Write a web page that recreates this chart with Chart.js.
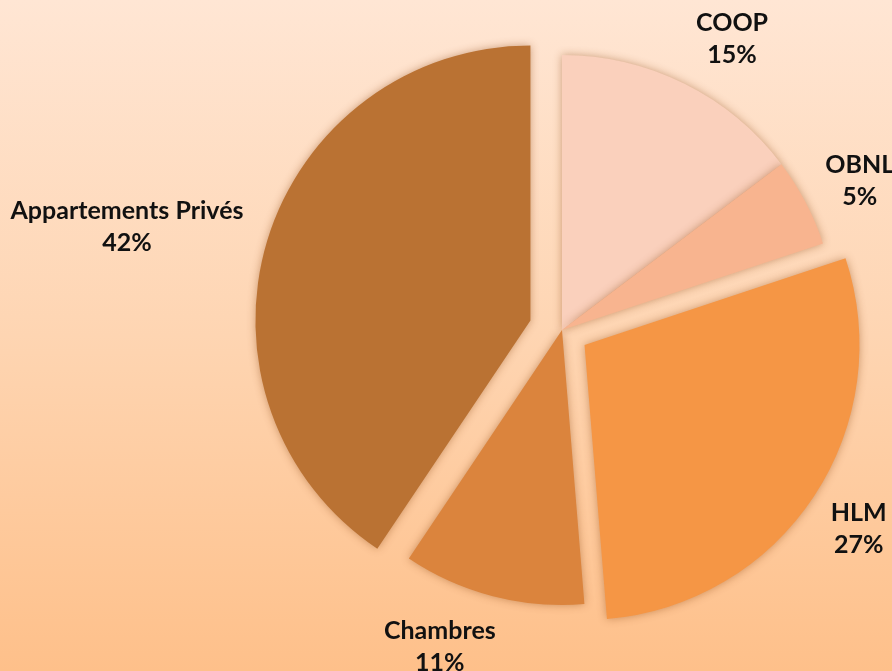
<!DOCTYPE html>
<html>
<head>
<meta charset="utf-8">
<script src="https://cdn.jsdelivr.net/npm/chart.js@4.4.0/dist/chart.umd.min.js"></script>
<style>
  html, body { margin: 0; padding: 0; }
  body {
    width: 892px; height: 671px; overflow: hidden;
    background: linear-gradient(to bottom, #FFE6D4 0%, #FED5B2 50%, #FEC08A 100%);
  }
  canvas { display: block; }
</style>
</head>
<body>
<canvas id="chart" width="892" height="671"></canvas>
<script>
const categories = ['COOP', 'OBNL', 'HLM', 'Chambres', 'Appartements Privés'];
// slice sizes as drawn in the picture (the printed labels are rounded differently)
const shares = [14.7, 5.2, 28.8, 10.7, 40.6];
const shareLabels = ['15%', '5%', '27%', '11%', '42%'];
const sliceColors = ['#FAD0BC', '#F8B48F', '#F59645', '#DB843D', '#BA7233'];
const explode = [0, 0, 27, 0, 33];

// draw the arcs ourselves so exploded slices keep the same radius
const explodedSlices = {
    id: 'explodedSlices',
    beforeDatasetDraw(chart, args) {
        const ctx = chart.ctx;
        args.meta.data.forEach((arc, i) => {
            const mid = (arc.startAngle + arc.endAngle) / 2;
            ctx.save();
            ctx.shadowColor = 'rgba(140, 70, 20, 0.45)';
            ctx.shadowBlur = 8;
            ctx.translate(Math.cos(mid) * explode[i], Math.sin(mid) * explode[i]);
            arc.draw(ctx);
            ctx.restore();
        });
        return false;
    }
};

// labels outside the slices: name + percent
const outsideLabels = {
    id: 'outsideLabels',
    afterDraw(chart, args, opts) {
        const ctx = chart.ctx;
        const meta = chart.getDatasetMeta(0);
        const lineH = 32;
        ctx.save();
        ctx.font = 'bold 25px Lato';
        ctx.fillStyle = '#111';
        ctx.textAlign = 'center';
        ctx.textBaseline = 'middle';
        meta.data.forEach((arc, i) => {
            const mid = (arc.startAngle + arc.endAngle) / 2;
            const dx = Math.cos(mid), dy = Math.sin(mid);
            const lines = [chart.data.labels[i], shareLabels[i]];
            const w = Math.max(...lines.map(l => ctx.measureText(l).width));
            const halfW = w / 2, halfH = (lineH + 16) / 2;
            const r = arc.outerRadius + explode[i] + opts.gap + halfW * Math.abs(dx) + halfH * Math.abs(dy);
            const shift = opts.shift[i] || [0, 0];
            const cx = arc.x + dx * r + shift[0];
            const cy = arc.y + dy * r + shift[1];
            ctx.fillText(lines[0], cx, cy - lineH / 2);
            ctx.fillText(lines[1], cx, cy + lineH / 2);
        });
        ctx.restore();
    }
};

new Chart(document.getElementById('chart'), {
    type: 'pie',
    data: {
        labels: categories,
        datasets: [{
            data: shares,
            backgroundColor: sliceColors,
            borderWidth: 0,
            radius: 275
        }]
    },
    options: {
        responsive: false,
        animation: false,
        layout: {
            padding: { left: 232, right: 0, top: 0, bottom: 11 }
        },
        plugins: {
            legend: { display: false },
            tooltip: { enabled: false },
            outsideLabels: {
                gap: 22,
                shift: { 0: [21, 8], 1: [-2, 8], 2: [-4, 0], 3: [-38, -7], 4: [-6, 27] }
            }
        }
    },
    plugins: [explodedSlices, outsideLabels]
});
</script>
</body>
</html>
